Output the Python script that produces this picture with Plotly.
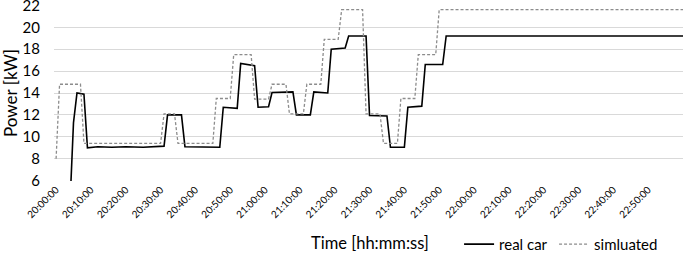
import plotly.graph_objects as go
from datetime import datetime, timedelta

BASE = datetime(2020, 1, 1, 20, 0, 0)

# minutes after 20:00:00 and power [kW]
real_min = [4, 5, 6, 8, 9, 12, 16, 20, 25, 28, 31, 32, 36, 37, 42, 47, 48, 52, 53, 57, 58, 61, 62, 68,
            69, 73, 74, 78, 79, 83, 84, 89, 90, 95, 96, 100, 101, 105, 106, 111, 112, 130, 150, 170, 180]
real_kw = [3.9, 11.3, 14.0, 13.9, 9.0, 9.1, 9.05, 9.1, 9.05, 9.1, 9.15, 12.0, 12.0, 9.1, 9.1, 9.05, 12.7, 12.6,
           16.7, 16.5, 12.7, 12.75, 14.05, 14.1, 12.0, 12.0, 14.1, 14.0, 18.0, 18.1, 19.2, 19.2, 11.95, 11.9,
           9.05, 9.05, 12.7, 12.8, 16.6, 16.6, 19.2, 19.2, 19.2, 19.2, 19.2]

sim_min = [0, 1, 7, 8, 30, 31, 34, 35, 45, 46, 50, 51, 56, 57, 61, 62, 66, 67, 71, 72, 76, 77, 81, 82,
           88, 89, 93, 94, 98, 99, 103, 104, 109, 110, 180]
sim_kw = [8.0, 14.8, 14.8, 9.4, 9.4, 12.1, 12.1, 9.4, 9.4, 13.5, 13.5, 17.5, 17.5, 13.45, 13.45, 14.8,
          14.8, 12.1, 12.1, 14.8, 14.8, 18.9, 18.9, 21.6, 21.6, 12.1, 12.1, 9.4, 9.4, 13.5, 13.5, 17.5,
          17.5, 21.6, 21.6]

y_ticks = [6, 8, 10, 12, 14, 16, 18, 20, 22]

real_t = [BASE + timedelta(minutes=m) for m in real_min]
sim_t = [BASE + timedelta(minutes=m) for m in sim_min]

FONT = "Lato"
fig = go.Figure()
fig.add_trace(go.Scatter(x=real_t, y=real_kw, mode="lines", name="real car", legend="legend",
                         line=dict(color="#000000", width=1.6)))
fig.add_trace(go.Scatter(x=sim_t, y=sim_kw, mode="lines", name="simluated", legend="legend2",
                         line=dict(color="#8c8c8c", width=1.3, dash="3px,2px")))

leg_common = dict(orientation="h", y=-0.36, xanchor="left", yanchor="middle",
                  font=dict(size=15, family=FONT), itemwidth=30, bgcolor="rgba(0,0,0,0)")

fig.update_layout(
    width=685, height=253,
    margin=dict(l=54, r=2, t=5, b=72, autoexpand=False),
    paper_bgcolor="white", plot_bgcolor="white",
    font=dict(family=FONT, color="#000000"),
    showlegend=True,
    legend=dict(x=0.644, **leg_common),
    legend2=dict(x=0.795, **leg_common),
    xaxis=dict(
        type="date", automargin=False,
        range=[BASE - timedelta(minutes=0.6), BASE + timedelta(minutes=180)],
        tickformat="%H:%M:%S", dtick=600000, tick0=BASE,
        tickangle=-45, tickfont=dict(size=10, family=FONT),
        showgrid=False, showline=False, ticks="", zeroline=False,
    ),
    yaxis=dict(
        automargin=False, ticklabeloverflow="allow",
        range=[5.97, 22.03], tickvals=y_ticks, tickfont=dict(size=15, family=FONT),
        showgrid=True, gridcolor="#d9d9d9", gridwidth=1, zeroline=False,
        showline=False, ticks="", ticklabelstandoff=13,
    ),
    annotations=[
        dict(text="Time [hh:mm:ss]", xref="paper", yref="paper", x=0.502, y=-0.352,
             xanchor="center", yanchor="middle", showarrow=False,
             font=dict(size=16.5, family=FONT)),
        dict(text="Power [kW]", xref="paper", yref="paper", x=-0.07, y=0.5,
             xanchor="center", yanchor="middle", textangle=-90, showarrow=False,
             font=dict(size=17, family=FONT)),
    ],
)

fig.write_html("out.html", config={"displayModeBar": False},
               post_script="document.body.style.margin='0';document.body.style.overflow='hidden';")
